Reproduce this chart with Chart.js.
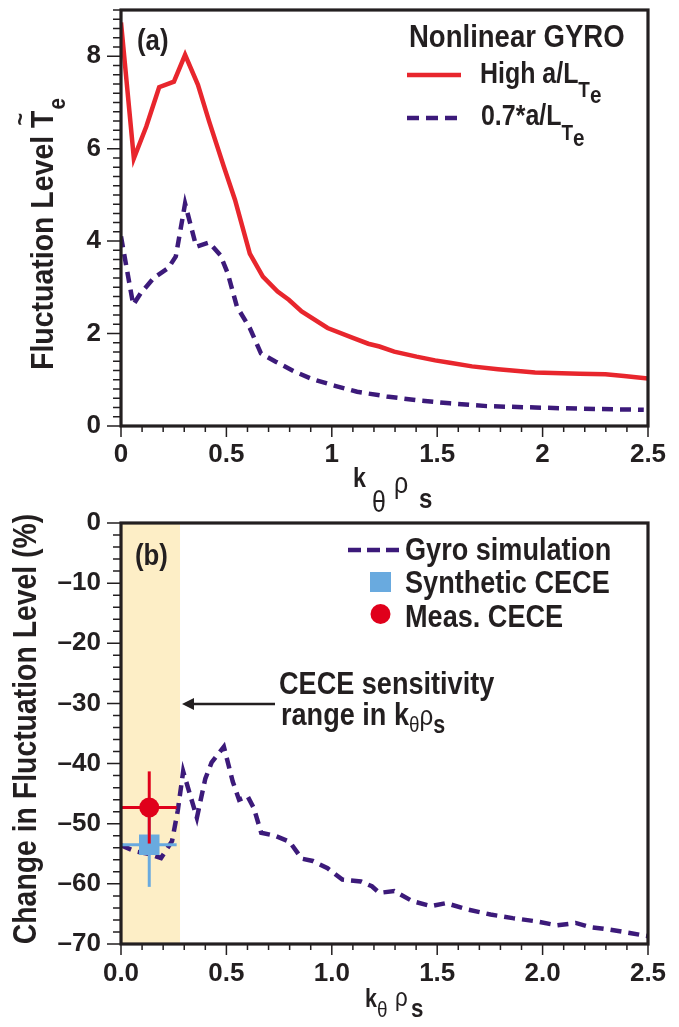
<!DOCTYPE html>
<html>
<head>
<meta charset="utf-8">
<script src="https://cdn.jsdelivr.net/npm/chart.js@4.4.0/dist/chart.umd.min.js"></script>
<style>
  html, body { margin: 0; padding: 0; background: #fff; }
  #page { position: relative; width: 679px; height: 1027px; }
  #chartA { position: absolute; left: 0; top: 0; }
  #chartB { position: absolute; left: 0; top: 500px; }
</style>
</head>
<body>
<div id="page">
  <canvas id="chartA" width="679" height="527"></canvas>
  <canvas id="chartB" width="679" height="527"></canvas>
</div>
<script>
// ─────────────────────────────────────────────────
// Data
// ─────────────────────────────────────────────────
// (a) nonlinear GYRO fluctuation level vs k_theta rho_s
const kHigh = [0, 0.061, 0.12, 0.181, 0.251, 0.304, 0.365, 0.418, 0.488, 0.541, 0.611, 0.673, 0.743, 0.796, 0.857,
    0.98, 1.103, 1.173, 1.226, 1.296, 1.402, 1.49, 1.56, 1.665, 1.788, 1.964, 2.175, 2.298, 2.386, 2.5];
const flucHigh = [8.73, 5.79, 6.48, 7.33, 7.45, 8.03, 7.38, 6.59, 5.61, 4.89, 3.73, 3.23, 2.91, 2.73, 2.48,
    2.12, 1.90, 1.78, 1.72, 1.61, 1.50, 1.42, 1.37, 1.29, 1.23, 1.16, 1.13, 1.12, 1.08, 1.03];
const kLow = [0, 0.058, 0.093, 0.155, 0.225, 0.26, 0.304, 0.357, 0.418, 0.471, 0.506, 0.55, 0.611, 0.664, 0.734,
    0.822, 0.91, 1.015, 1.12, 1.26, 1.40, 1.56, 1.736, 1.964, 2.175, 2.35, 2.48];
const flucLow = [4.10, 2.62, 2.87, 3.20, 3.42, 3.67, 4.81, 3.88, 3.97, 3.70, 3.31, 2.58, 2.12, 1.57, 1.39,
    1.18, 1.01, 0.87, 0.74, 0.64, 0.56, 0.49, 0.43, 0.40, 0.375, 0.36, 0.35];

// (b) change in fluctuation level (%)
const kGyro = [0, 0.067, 0.13, 0.19, 0.242, 0.269, 0.295, 0.36, 0.40, 0.43, 0.488, 0.53, 0.56, 0.60, 0.63, 0.665,
    0.73, 0.80, 0.857, 0.91, 0.98, 1.05, 1.138, 1.19, 1.226, 1.296, 1.384, 1.472, 1.542, 1.648, 1.753, 1.858,
    1.964, 2.069, 2.157, 2.228, 2.316, 2.42, 2.5];
const changeGyro = [-53.6, -54.6, -55.0, -55.7, -52.9, -47.9, -41.3, -49.0, -42.5, -39.8, -37.2, -43.0, -46.0, -45.4,
    -47.4, -51.5, -52.0, -53.0, -55.8, -56.2, -57.4, -59.3, -59.6, -60.4, -61.5, -61.2, -62.9, -63.7, -63.2,
    -64.3, -65.1, -65.7, -66.2, -66.9, -66.5, -67.2, -67.6, -68.2, -68.7];
const ceceK = [0.134];
const ceceKErr = [0.13];
const synthChange = [-53.5];
const synthErr = [7];
const measChange = [-47.3];
const measErr = [6];
const sensBand = [0, 0.28];

// tick labels
const xLabelsA = [0, 0.5, 1, 1.5, 2, 2.5];
const yLabelsA = [0, 2, 4, 6, 8];
const xLabelsB = [0, 0.5, 1, 1.5, 2, 2.5];
const yLabelsB = [0, -10, -20, -30, -40, -50, -60, -70];

// ─────────────────────────────────────────────────
// Styles
// ─────────────────────────────────────────────────
const FONT = "'Liberation Sans', Arial, sans-serif";
const SQ = 0.86; // horizontal squeeze, to get the condensed look of the original lettering
const INK = '#231f20';
const RED = '#e8262d';
const PURPLE = '#3c1a7a';
const BLUE = '#69aadf';
const MEAS = '#e0001b';
const BAND = '#fdeec6';

const isLabelled = (v, list) => list.some(l => Math.abs(l - v) < 1e-6);
const pts = (xs, ys) => xs.map((x, i) => ({ x, y: ys[i] }));

// draw a run of text pieces (sub/superscripts) squeezed horizontally
function rich(ctx, x, y, parts) {
    ctx.save();
    ctx.translate(x, y);
    ctx.scale(SQ, 1);
    let cx = 0;
    parts.forEach(p => {
        ctx.font = `${p.w || 'bold'} ${p.s}px ${FONT}`;
        ctx.fillText(p.t, cx + (p.dx || 0), p.dy || 0);
        cx += ctx.measureText(p.t).width + (p.dx || 0);
    });
    ctx.restore();
}

// frame + tick marks (Chart.js has no minor ticks)
const frameTicks = {
    id: 'frameTicks',
    afterDatasetsDraw(chart, args, opts) {
        const { ctx, chartArea: a } = chart;
        const { x, y } = chart.scales;
        ctx.save();
        ctx.strokeStyle = INK;
        ctx.lineWidth = 1.5;
        ctx.beginPath();
        x.ticks.forEach(t => {
            const px = x.getPixelForValue(t.value);
            const len = isLabelled(t.value, opts.xLabels) ? 11 : 6;
            ctx.moveTo(px, a.bottom); ctx.lineTo(px, a.bottom + len);
        });
        y.ticks.forEach(t => {
            const py = y.getPixelForValue(t.value);
            const len = isLabelled(t.value, opts.yLabels) ? 14 : 8;
            ctx.moveTo(a.left, py); ctx.lineTo(a.left - len, py);
        });
        ctx.stroke();
        ctx.lineWidth = 3.2;
        ctx.strokeRect(a.left, a.top, a.right - a.left, a.bottom - a.top);
        ctx.restore();
    }
};

function axes(xLabels, yLabels, xStep, yStep, xMin, xMax, yMin, yMax, xFmt, yFmt, xH, xPad) {
    const tickFont = { family: FONT, size: 26, weight: 'bold' };
    return {
        x: {
            type: 'linear', min: xMin, max: xMax,
            grid: { display: false, drawTicks: false }, border: { display: false },
            ticks: { stepSize: xStep, autoSkip: false, maxRotation: 0, color: INK, font: tickFont, padding: xPad,
                callback: v => isLabelled(v, xLabels) ? xFmt(v) : '' },
            afterFit: s => { s.height = xH; s.paddingLeft = 0; s.paddingRight = 0; }
        },
        y: {
            type: 'linear', min: yMin, max: yMax,
            grid: { display: false, drawTicks: false }, border: { display: false },
            ticks: { stepSize: yStep, autoSkip: false, color: INK, font: tickFont, padding: 20,
                callback: v => isLabelled(v, yLabels) ? yFmt(v) : '' },
            afterFit: s => { s.width = 121; s.paddingTop = 0; s.paddingBottom = 0; }
        }
    };
}

// ─────────────────────────────────────────────────
// Panel (a)
// ─────────────────────────────────────────────────
const textA = {
    id: 'textA',
    afterDraw(chart) {
        const { ctx } = chart;
        ctx.save();
        ctx.fillStyle = INK;
        ctx.textBaseline = 'alphabetic';

        rich(ctx, 137, 50, [{ t: '(a)', s: 30 }]);
        rich(ctx, 409, 47, [{ t: 'Nonlinear GYRO', s: 32 }]);
        rich(ctx, 480, 83, [{ t: 'High a/L', s: 29 }, { t: 'T', s: 22, dy: 14 }, { t: 'e', s: 24, dy: 20 }]);
        rich(ctx, 481, 125, [{ t: '0.7*a/L', s: 29 }, { t: 'T', s: 22, dy: 15 }, { t: 'e', s: 24, dy: 21 }]);

        ctx.lineWidth = 4.5;
        ctx.strokeStyle = RED;
        ctx.beginPath(); ctx.moveTo(407, 75); ctx.lineTo(461, 75); ctx.stroke();
        ctx.strokeStyle = PURPLE;
        ctx.setLineDash([12, 7]);
        ctx.beginPath(); ctx.moveTo(407, 118); ctx.lineTo(459, 118); ctx.stroke();
        ctx.setLineDash([]);

        // x title k_theta rho_s
        rich(ctx, 353, 487, [{ t: 'k', s: 27 }]);
        rich(ctx, 372, 512, [{ t: 'θ', s: 29, w: 'normal' }]);
        rich(ctx, 394, 493, [{ t: 'ρ', s: 29, w: 'normal' }]);
        rich(ctx, 419, 508, [{ t: 's', s: 28 }]);

        // y title, rotated
        ctx.translate(53, 370);
        ctx.rotate(-Math.PI / 2);
        ctx.scale(0.89, 1);
        ctx.font = `bold 32px ${FONT}`;
        ctx.fillText('Fluctuation Level T', 0, 0);
        const w = ctx.measureText('Fluctuation Level ').width;
        const wT = ctx.measureText('T').width;
        ctx.font = `bold 23px ${FONT}`;
        ctx.fillText('e', w + wT + 1, 12);
        ctx.textAlign = 'center';
        ctx.font = `bold 24px ${FONT}`;
        ctx.fillText('~', w + wT / 2, -25);
        ctx.restore();
    }
};

new Chart(document.getElementById('chartA'), {
    type: 'line',
    data: {
        datasets: [
            { data: pts(kHigh, flucHigh), borderColor: RED, borderWidth: 4.5, pointRadius: 0, tension: 0 },
            { data: pts(kLow, flucLow), borderColor: PURPLE, borderWidth: 4.5, borderDash: [11, 7], pointRadius: 0, tension: 0 }
        ]
    },
    options: {
        responsive: false, animation: false, events: [],
        layout: { padding: { left: 0, right: 31, top: 10, bottom: 0 } },
        plugins: { legend: { display: false }, tooltip: { enabled: false },
            frameTicks: { xLabels: xLabelsA, yLabels: yLabelsA } },
        scales: axes(xLabelsA, yLabelsA, 0.1, 0.2, 0, 2.5, 0, 9,
            v => String(v), v => String(v), 101, 13)
    },
    plugins: [frameTicks, textA]
});

// ─────────────────────────────────────────────────
// Panel (b)
// ─────────────────────────────────────────────────
const bandB = {
    id: 'bandB',
    beforeDatasetsDraw(chart) {
        const { ctx, chartArea: a, scales: { x } } = chart;
        const x0 = x.getPixelForValue(sensBand[0]);
        const x1 = x.getPixelForValue(sensBand[1]);
        ctx.save();
        ctx.fillStyle = BAND;
        ctx.fillRect(x0, a.top, x1 - x0, a.bottom - a.top);
        ctx.restore();
    }
};

const textB = {
    id: 'textB',
    afterDraw(chart) {
        const { ctx, scales: { x } } = chart;
        ctx.save();
        ctx.fillStyle = INK;
        ctx.textBaseline = 'alphabetic';
        const o = -500; // canvas offset on the page

        rich(ctx, 135, 565 + o, [{ t: '(b)', s: 30 }]);
        rich(ctx, 405, 560 + o, [{ t: 'Gyro simulation', s: 31.5 }]);
        rich(ctx, 405, 593 + o, [{ t: 'Synthetic CECE', s: 31.5 }]);
        rich(ctx, 405, 627 + o, [{ t: 'Meas. CECE', s: 31.5 }]);
        rich(ctx, 279, 694 + o, [{ t: 'CECE sensitivity', s: 31.5 }]);
        rich(ctx, 281, 725 + o, [{ t: 'range in k', s: 31.5 }, { t: 'θ', s: 22, w: 'normal', dy: 7 },
            { t: 'ρ', s: 28, w: 'normal' }, { t: 's', s: 25, dy: 8 }]);

        // legend marks
        ctx.lineWidth = 4.5;
        ctx.strokeStyle = PURPLE;
        ctx.setLineDash([13, 6]);
        ctx.beginPath(); ctx.moveTo(348, 550 + o); ctx.lineTo(399, 550 + o); ctx.stroke();
        ctx.setLineDash([]);
        ctx.fillStyle = BLUE;
        ctx.fillRect(370, 572 + o, 21, 20);
        ctx.fillStyle = MEAS;
        ctx.beginPath(); ctx.arc(380.5, 614 + o, 10, 0, Math.PI * 2); ctx.fill();

        // arrow to the sensitivity band
        const tip = x.getPixelForValue(sensBand[1]) + 2;
        ctx.strokeStyle = INK; ctx.fillStyle = INK; ctx.lineWidth = 2.5;
        ctx.beginPath(); ctx.moveTo(275, 704 + o); ctx.lineTo(tip + 8, 704 + o); ctx.stroke();
        ctx.beginPath(); ctx.moveTo(tip, 704 + o); ctx.lineTo(tip + 12, 698 + o); ctx.lineTo(tip + 12, 710 + o); ctx.closePath(); ctx.fill();

        // x title
        rich(ctx, 365, 1007 + o, [{ t: 'k', s: 25 }]);
        rich(ctx, 377, 1017 + o, [{ t: 'θ', s: 22, w: 'normal' }]);
        rich(ctx, 395, 1006 + o, [{ t: 'ρ', s: 26, w: 'normal' }]);
        rich(ctx, 411, 1017 + o, [{ t: 's', s: 26 }]);

        // y title, rotated
        ctx.translate(36, 729 + o);
        ctx.rotate(-Math.PI / 2);
        ctx.scale(SQ, 1);
        ctx.textAlign = 'center';
        ctx.font = `bold 33px ${FONT}`;
        ctx.fillText('Change in Fluctuation Level (%)', 0, 0);
        ctx.restore();
    }
};

new Chart(document.getElementById('chartB'), {
    type: 'line',
    data: {
        datasets: [
            { type: 'scatter', data: pts(ceceK, measChange), backgroundColor: MEAS, pointRadius: 10,
                pointBorderWidth: 0, order: 0 },
            { data: [{ x: ceceK[0] - ceceKErr[0], y: measChange[0] }, { x: ceceK[0] + ceceKErr[0], y: measChange[0] }],
                borderColor: MEAS, borderWidth: 3, pointRadius: 0, order: 1 },
            { data: [{ x: ceceK[0], y: measChange[0] - measErr[0] }, { x: ceceK[0], y: measChange[0] + measErr[0] }],
                borderColor: MEAS, borderWidth: 3, pointRadius: 0, order: 1 },
            { type: 'scatter', data: pts(ceceK, synthChange), backgroundColor: BLUE, pointStyle: 'rect',
                pointRadius: 14.5, pointBorderWidth: 0, order: 2 },
            { data: [{ x: ceceK[0] - ceceKErr[0], y: synthChange[0] }, { x: ceceK[0] + ceceKErr[0], y: synthChange[0] }],
                borderColor: BLUE, borderWidth: 3, pointRadius: 0, order: 3 },
            { data: [{ x: ceceK[0], y: synthChange[0] - synthErr[0] }, { x: ceceK[0], y: synthChange[0] + synthErr[0] }],
                borderColor: BLUE, borderWidth: 3, pointRadius: 0, order: 3 },
            { data: pts(kGyro, changeGyro), borderColor: PURPLE, borderWidth: 4.5, borderDash: [11, 7],
                pointRadius: 0, tension: 0, order: 4 }
        ]
    },
    options: {
        responsive: false, animation: false, events: [],
        layout: { padding: { left: 0, right: 31, top: 23, bottom: 0 } },
        plugins: { legend: { display: false }, tooltip: { enabled: false },
            frameTicks: { xLabels: xLabelsB, yLabels: yLabelsB } },
        scales: axes(xLabelsB, yLabelsB, 0.1, 2, 0, 2.5, -70, 0,
            v => v.toFixed(1), v => v < 0 ? '\u2013' + Math.abs(v) : '0', 83, 14)
    },
    plugins: [bandB, frameTicks, textB]
});
</script>
</body>
</html>
